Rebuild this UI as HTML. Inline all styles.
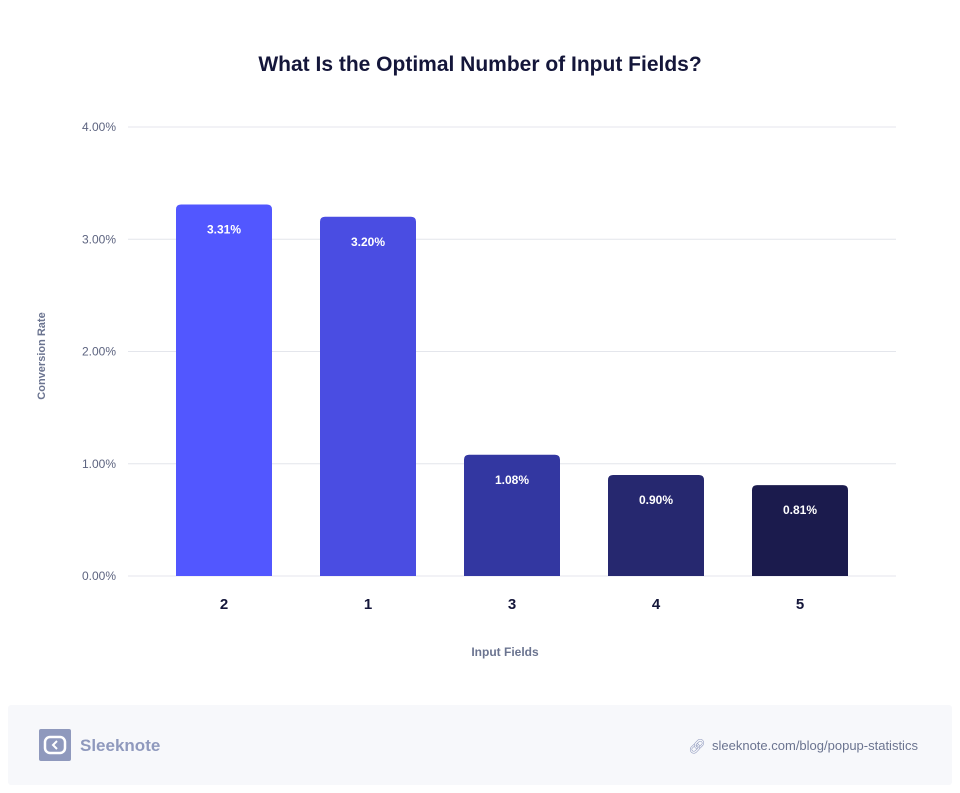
<!DOCTYPE html>
<html><head><meta charset="utf-8"><style>
html,body{margin:0;padding:0;background:#fff;width:960px;height:793px;overflow:hidden;font-family:"Liberation Sans",sans-serif}
</style></head><body>
<svg width="960" height="793" xmlns="http://www.w3.org/2000/svg">
<text x="480" y="71" text-anchor="middle" font-size="21" font-weight="bold" fill="#14163a">What Is the Optimal Number of Input Fields?</text>
<g id="grid"></g>
<g id="bars"></g>
<text transform="translate(45,356) rotate(-90)" text-anchor="middle" font-size="11" font-weight="bold" fill="#6b7490">Conversion Rate</text>
<text x="505" y="656" text-anchor="middle" font-size="12" font-weight="bold" fill="#6b7490">Input Fields</text>
<rect x="8" y="705" width="944" height="80" rx="3" fill="#f7f8fb"/>
<g>
<rect x="39" y="729" width="32" height="32" rx="2" fill="#8f99bd"/>
<rect x="45" y="737" width="20" height="16" rx="5" fill="none" stroke="#fff" stroke-width="2.5"/>
<path d="M57 741 L53 745 L57 749" fill="none" stroke="#fff" stroke-width="2"/>
<text x="80" y="751" font-size="17" font-weight="bold" fill="#8f99bd">Sleeknote</text>
</g>
<g>
<text x="688" y="751" font-size="14" fill="#8f99bd">🔗︎</text>
<text x="712" y="750" font-size="13" fill="#6b7490">sleeknote.com/blog/popup-statistics</text>
</g>
</svg>
<script>
const categories=["2","1","3","4","5"];
const values=[3.31,3.20,1.08,0.90,0.81];
const labels=["3.31%","3.20%","1.08%","0.90%","0.81%"];
const ticks=[0,1,2,3,4];
const tickLabels=["0.00%","1.00%","2.00%","3.00%","4.00%"];
const colors=["#5257ff","#4a4de2","#3337a1","#26286f","#1b1b4d"];
const NS="http://www.w3.org/2000/svg";
const y0=576,yTop=127,max=4;
const y=v=>y0-(y0-yTop)*v/max;
const bandStart=152,band=144,bw=96;
const x=i=>bandStart+i*band+(band-bw)/2;
function mk(t,a){const e=document.createElementNS(NS,t);for(const k in a)e.setAttribute(k,a[k]);return e;}
const g=document.getElementById('grid'),b=document.getElementById('bars');
ticks.forEach((t,i)=>{
 const l=mk('line',{x1:128,x2:896,y1:y(t),y2:y(t),stroke:'#e4e6ec','stroke-width':1});
 
 
 g.appendChild(l);
 const tx=mk('text',{x:116,y:y(t)+4,'text-anchor':'end','font-size':12,fill:'#5d6480'});
 
 
 tx.textContent=tickLabels[i];g.appendChild(tx);
});
values.forEach((v,i)=>{
 const top=y(v),h=y0-top,r=5;
 const p=mk('path',{d:`M${x(i)} ${y0} V${top+r} Q${x(i)} ${top} ${x(i)+r} ${top} H${x(i)+bw-r} Q${x(i)+bw} ${top} ${x(i)+bw} ${top+r} V${y0} Z`,fill:colors[i]});
 
 
 b.appendChild(p);
 const t=mk('text',{x:x(i)+bw/2,y:top+29,'text-anchor':'middle','font-size':12,'font-weight':'bold',fill:'#fff'});
 
 
 t.textContent=labels[i];b.appendChild(t);
 const c=mk('text',{x:x(i)+bw/2,y:609,'text-anchor':'middle','font-size':15,'font-weight':'bold',fill:'#14163a'});
 
 
 c.textContent=categories[i];b.appendChild(c);
});
</script>
</body></html>
